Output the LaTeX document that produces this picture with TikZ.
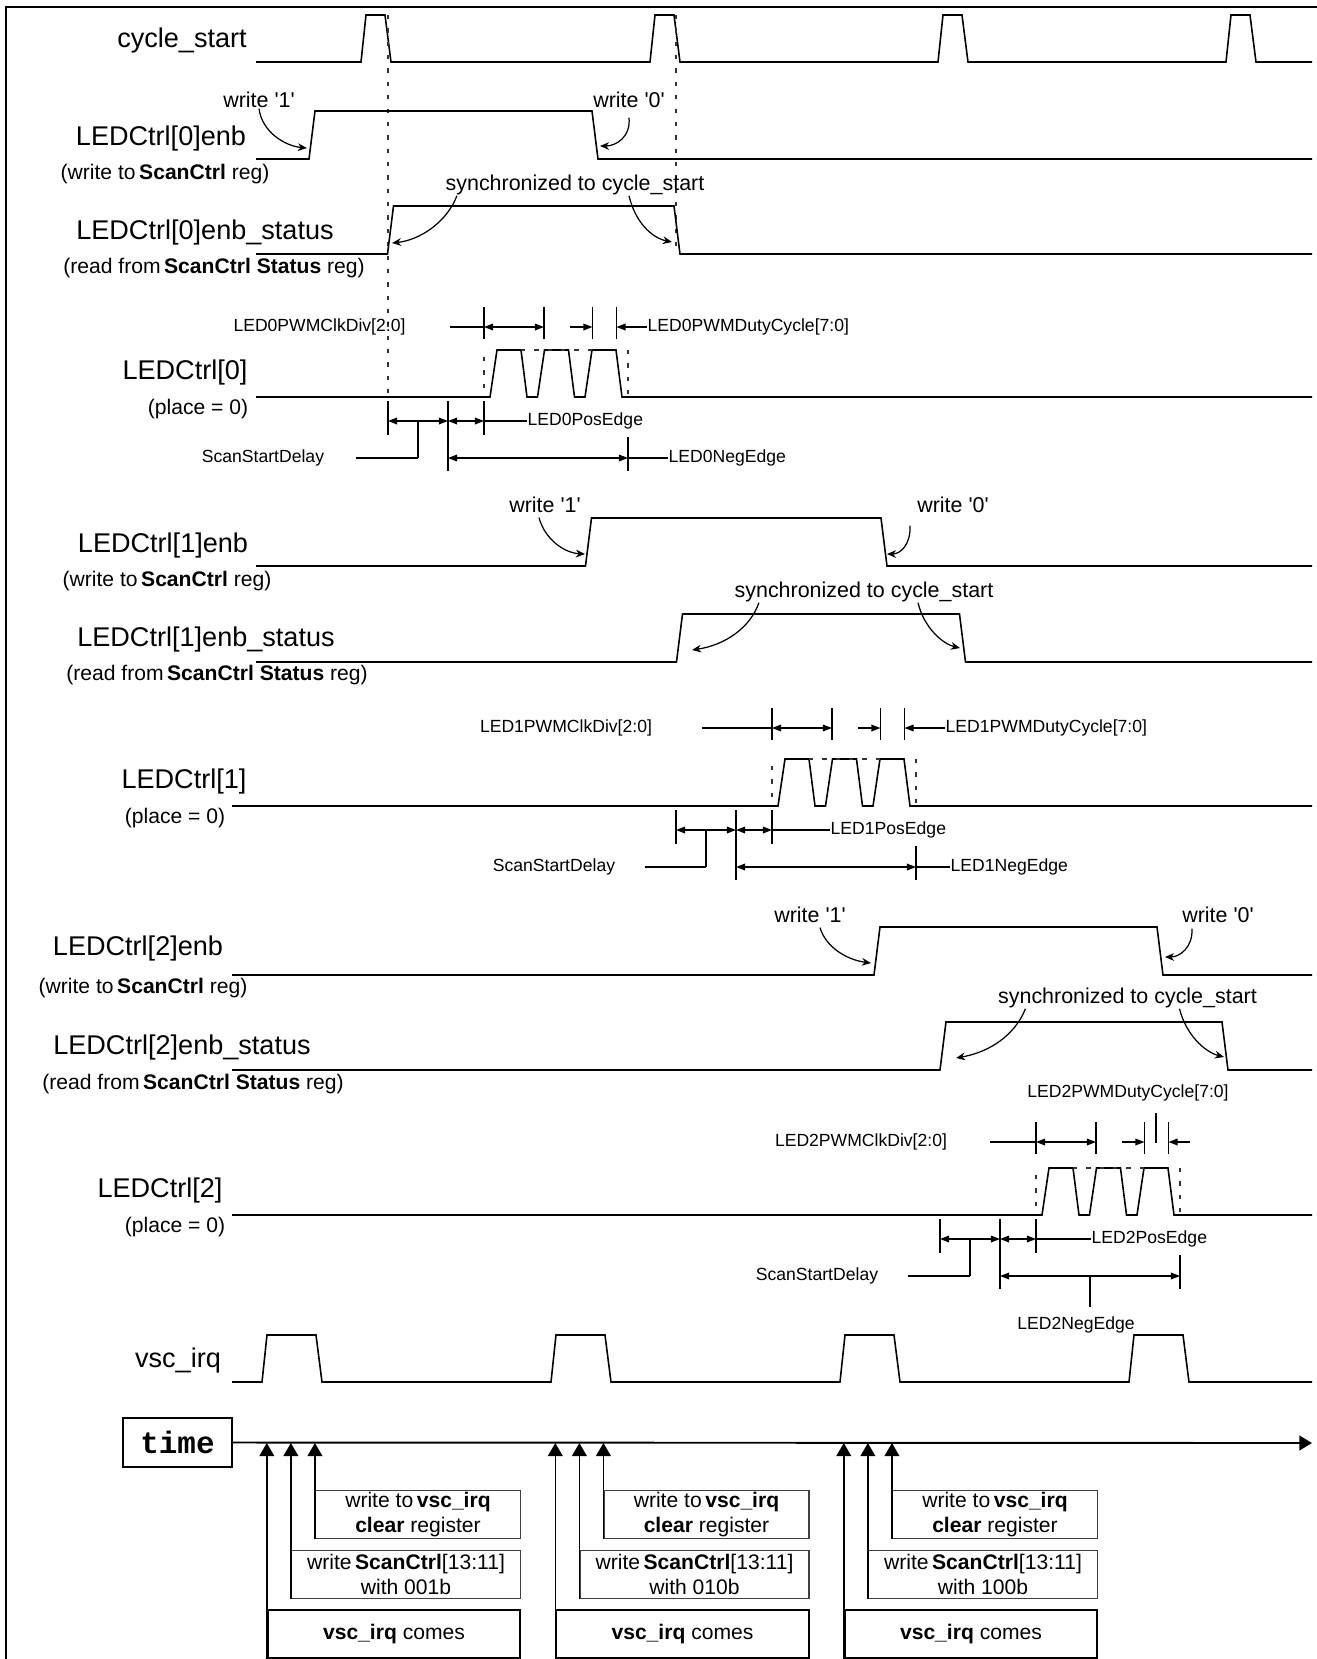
\documentclass[tikz,border=0pt]{standalone}
\usepackage{fontspec}
\setmainfont{Liberation Sans}
\newfontfamily\timefont{Liberation Mono}
\usetikzlibrary{arrows.meta}

\begin{document}
\begin{tikzpicture}[x=0.01cm, y=-0.01cm,
    sigline/.style={line width=0.45pt},
    syncline/.style={line width=0.4pt, black!80, dash pattern=on 1.2pt off 2.6pt},
    dimbar/.style={line width=0.4pt},
    dimarr/.style={line width=0.4pt, {Triangle[length=2.6pt,width=1.9pt]}-{Triangle[length=2.6pt,width=1.9pt]}},
    tiparr/.style={line width=0.4pt, -{Triangle[length=2.6pt,width=1.9pt]}},
    notearr/.style={line width=0.35pt, -{Stealth[length=2.6pt,width=2.2pt]}},
    uparr/.style={line width=0.4pt, -{Triangle[length=3.7pt,width=4.2pt]}},
    signame/.style={inner sep=0pt, font=\fontsize{7.7pt}{9pt}\selectfont},
    regname/.style={inner sep=0pt, font=\fontsize{6pt}{7pt}\selectfont},
    notetext/.style={inner sep=0pt, font=\fontsize{6.1pt}{7pt}\selectfont},
    dimtext/.style={inner sep=0pt, font=\fontsize{5pt}{6pt}\selectfont},
    eventbox/.style={draw, line width=0.4pt, inner sep=0pt, align=center, font=\fontsize{6pt}{7.1pt}\selectfont}]

    \useasboundingbox (0,0) rectangle (1317,1659);
    % frame (left and top only)
    \draw[line width=0.7pt] (6,1659) -- (6,7) -- (1317,7);

    % --- CYCLE_START ---
    \node[signame] (ncs) at (182,40) {cycle\_start};
    \draw[sigline] (256,62) \foreach \t in {361,650,938,1226} { -- (\t,62) -- (\t+5,15) -- (\t+24,15) -- (\t+30,62) } -- (1312,62);
    \draw[syncline] (388,15) -- (388,397);
    \draw[syncline] (676,15) -- (676,254);

    % --- enb / enb_status waveforms ---
    \foreach \S/\L/\r/\f in {256/159/309/592, 256/254/387.5/674, 256/566/585.5/881,
                              256/662/676.5/959.5, 232/975/874/1157, 232/1070/940/1222} {
        \draw[sigline] (\S,\L) -- (\r,\L) -- (\r+6,\L-48) -- (\f,\L-48) -- (\f+6,\L) -- (1312,\L);
    }

    % --- LEDCtrl[n] PWM blocks ---
    \foreach \A/\L/\T/\S in {388/397/327/256, 676/806/728/232, 940/1215/1142/232} {
        % pulse train
        \draw[sigline] (\S,\L) \foreach \k in {0,1,2} { -- (\A+102+47.5*\k,\L) -- (\A+109+47.5*\k,\L-47) -- (\A+133+47.5*\k,\L-47) -- (\A+139+47.5*\k,\L) } -- (1312,\L);
        \draw[syncline] (\A+133,\L-47) -- (\A+204,\L-47);
        \draw[syncline] (\A+96,\L-40) -- (\A+96,\L);
        \draw[syncline] (\A+240,\L-47) -- (\A+240,\L);
        % clock divider / duty cycle
        \foreach \b in {96,156,204.5,228.5} { \draw[dimbar] (\A+\b,\T-20) -- (\A+\b,\T+12); }
        \draw[dimarr] (\A+96,\T) -- (\A+156,\T);
        \draw[tiparr] (\A+182,\T) -- (\A+204.5,\T);
        % scan start delay, pos edge, neg edge
        \draw[dimbar] (\A,\L+4) -- (\A,\L+38);
        \draw[dimbar] (\A+60,\L+4) -- (\A+60,\L+74);
        \draw[dimbar] (\A+96,\L+4) -- (\A+96,\L+38);
        \draw[dimbar] (\A+240,\L+40) -- (\A+240,\L+74);
        \draw[dimarr] (\A,\L+24) -- (\A+60,\L+24);
        \draw[dimarr] (\A+60,\L+24) -- (\A+96,\L+24);
        \draw[dimarr] (\A+60,\L+61) -- (\A+240,\L+61);
        \draw[dimbar] (\A+30,\L+24) -- (\A+30,\L+61);
    }

    % --- LED 0 ---
    \node[signame] (nen0) at (161,138) {LEDCtrl[0]enb};
    \node[regname] (nen0r) at (165,174) {(write to\,\textbf{ScanCtrl} reg)};
    \node[signame] (nst0) at (205,232) {LEDCtrl[0]enb\_status};
    \node[regname] (nst0r) at (214,268) {(read from\,\textbf{ScanCtrl Status} reg)};
    \node[signame] (nled0) at (185,372) {LEDCtrl[0]};
    \node[regname] (npl0) at (198,409) {(place = 0)};

    \node[notetext] (w10) at (259,100) {write \textquotesingle1\textquotesingle};
    \draw[notearr] (w10.south) .. controls (262,132) and (285,146) .. (307,148);
    \node[notetext] (w00) at (629,100) {write \textquotesingle0\textquotesingle};
    \draw[notearr] ([yshift=-0.9mm]w00.south) .. controls (631,137) and (616,146) .. (600,146);
    \node[notetext] (sy0) at (575,185) {synchronized to cycle\_start};
    \draw[notearr] ([xshift=-11.8mm]sy0.south) .. controls (447,222) and (420,240) .. (392,243);
    \draw[notearr] ([xshift=5.4mm]sy0.south) .. controls (635,222) and (652,238) .. (672,242);

    \node[dimtext] (lclk0) at (319.5,327) {LED0PWMClkDiv[2:0]};
    \draw[dimbar] ([xshift=4.4mm]lclk0.east) -- (484,327);
    \node[dimtext, anchor=west] (lduty0) at (647,327) {LED0PWMDutyCycle[7:0]};
    \draw[tiparr] (lduty0.west) -- (616.5,327);
    \node[dimtext, anchor=west] (lpos0) at (527,421) {LED0PosEdge};
    \draw[dimbar] (484,421) -- (lpos0.west);
    \node[dimtext] (lssd0) at (263,458) {ScanStartDelay};
    \draw[dimbar] ([xshift=3.1mm]lssd0.east) -- (418,458);
    \node[dimtext, anchor=west] (lneg0) at (668,458) {LED0NegEdge};
    \draw[dimbar] (628,458) -- (lneg0.west);

    % --- LED 1 ---
    \node[signame] (nen1) at (163,545) {LEDCtrl[1]enb};
    \node[regname] (nen1r) at (167,581) {(write to\,\textbf{ScanCtrl} reg)};
    \node[signame] (nst1) at (206,639) {LEDCtrl[1]enb\_status};
    \node[regname] (nst1r) at (217,675) {(read from\,\textbf{ScanCtrl Status} reg)};
    \node[signame] (nled1) at (184,781) {LEDCtrl[1]};
    \node[regname] (npl1) at (175,818) {(place = 0)};

    \node[notetext] (w11) at (545,505) {write \textquotesingle1\textquotesingle};
    \draw[notearr] ([xshift=-0.6mm,yshift=-0.4mm]w11.south) .. controls (545,540) and (565,553) .. (585,554);
    \node[notetext] (w01) at (953,505) {write \textquotesingle0\textquotesingle};
    \draw[notearr] ([xshift=-4.3mm,yshift=-1.2mm]w01.south) .. controls (911,545) and (900,554) .. (887,554);
    \node[notetext] (sy1) at (864,592) {synchronized to cycle\_start};
    \draw[notearr] ([xshift=-10.5mm]sy1.south) .. controls (750,628) and (725,645) .. (692,650);
    \draw[notearr] ([xshift=5.4mm]sy1.south) .. controls (924,628) and (943,644) .. (960,648);

    \node[dimtext] (lclk1) at (566,728) {LED1PWMClkDiv[2:0]};
    \draw[dimbar] ([xshift=4.9mm]lclk1.east) -- (772,728);
    \node[dimtext, anchor=west] (lduty1) at (945,728) {LED1PWMDutyCycle[7:0]};
    \draw[tiparr] (lduty1.west) -- (904.5,728);
    \node[dimtext, anchor=west] (lpos1) at (830,830) {LED1PosEdge};
    \draw[dimbar] (772,830) -- (lpos1.west);
    \node[dimtext] (lssd1) at (554,867) {ScanStartDelay};
    \draw[dimbar] ([xshift=2.9mm]lssd1.east) -- (706,867);
    \node[dimtext, anchor=west] (lneg1) at (950,867) {LED1NegEdge};
    \draw[dimbar] (916,867) -- (lneg1.west);

    % --- LED 2 ---
    \node[signame] (nen2) at (138,948) {LEDCtrl[2]enb};
    \node[regname] (nen2r) at (143,988) {(write to\,\textbf{ScanCtrl} reg)};
    \node[signame] (nst2) at (182,1047) {LEDCtrl[2]enb\_status};
    \node[regname] (nst2r) at (193,1084) {(read from\,\textbf{ScanCtrl Status} reg)};
    \node[signame] (nled2) at (160,1190) {LEDCtrl[2]};
    \node[regname] (npl2) at (175,1227) {(place = 0)};

    \node[notetext] (w12) at (810,915) {write \textquotesingle1\textquotesingle};
    \draw[notearr] ([xshift=1mm,yshift=-0.4mm]w12.south) .. controls (826,948) and (848,960) .. (871,963);
    \node[notetext] (w02) at (1218,915) {write \textquotesingle0\textquotesingle};
    \draw[notearr] ([xshift=-2.6mm,yshift=-0.5mm]w02.south) .. controls (1193,947) and (1180,957) .. (1165,957);
    \node[notetext] (sy2) at (1127.5,998) {synchronized to cycle\_start};
    \draw[notearr] ([xshift=-10.2mm]sy2.south) .. controls (1015,1035) and (990,1052) .. (956,1058);
    \draw[notearr] ([xshift=5.2mm]sy2.south) .. controls (1186,1035) and (1205,1052) .. (1224,1057);

    \node[dimtext] (lclk2) at (861,1142) {LED2PWMClkDiv[2:0]};
    \draw[dimbar] ([xshift=4.2mm]lclk2.east) -- (1036,1142);
    \node[dimtext] (lduty2) at (1128,1093) {LED2PWMDutyCycle[7:0]};
    \draw[dimbar] (lduty2.south) ++(28,11) -- ++(0,30);
    \draw[tiparr] (1190,1142) -- (1168.5,1142);
    \node[dimtext, anchor=west] (lpos2) at (1091,1239) {LED2PosEdge};
    \draw[dimbar] (1036,1239) -- (lpos2.west);
    \node[dimtext] (lssd2) at (817,1276) {ScanStartDelay};
    \draw[dimbar] ([xshift=2.9mm]lssd2.east) -- (970,1276);
    \node[dimtext] (lneg2) at (1076,1325) {LED2NegEdge};
    \draw[dimbar] (1090,1276) -- (1090,1307);

    % --- VSC_IRQ ---
    \node[signame] (nirq) at (178,1360) {vsc\_irq};
    \draw[sigline] (232,1382) \foreach \t in {262,551,840,1129} { -- (\t,1382) -- (\t+5,1335) -- (\t+54,1335) -- (\t+60,1382) } -- (1312,1382);

    % --- TIME AXIS ---
    \node[draw, line width=0.6pt, minimum width=10.9mm, minimum height=4.9mm, inner sep=0pt,
          font=\timefont\bfseries\fontsize{8.8pt}{10pt}\selectfont] (tbox) at (177.5,1442.5) {time};
    \coordinate (tend) at (1312,1443);
    \coordinate (ax) at (0,1443);
    \draw[line width=0.55pt, -{Triangle[length=3.6pt,width=4.2pt]}] (tbox.east) -- (tend);

    % event boxes per irq
    \foreach \gx/\bits [count=\n] in {0/001b, 288.5/010b, 577/100b} {
        \node[eventbox, draw=black!75, minimum width=20.46mm, minimum height=4.76mm] (clr\n) at (418+\gx,1514.5) {write to\,\textbf{vsc\_irq}\\\textbf{clear} register};
        \node[eventbox, draw=black!75, minimum width=22.87mm, minimum height=4.76mm] (wsc\n) at (406+\gx,1574.5) {write\,\textbf{ScanCtrl}[13:11]\\with \bits};
        \node[eventbox, line width=0.5pt, minimum width=25.25mm, minimum height=4.83mm] (irq\n) at (394+\gx,1634) {\textbf{vsc\_irq} comes};
        \draw[uparr] (clr\n.south west) -- (clr\n.south west |- ax);
        \draw[uparr] (wsc\n.south west) -- (wsc\n.south west |- ax);
        \draw[uparr] (irq\n.south west) -- (irq\n.south west |- ax);
    }
\end{tikzpicture}
\end{document}
